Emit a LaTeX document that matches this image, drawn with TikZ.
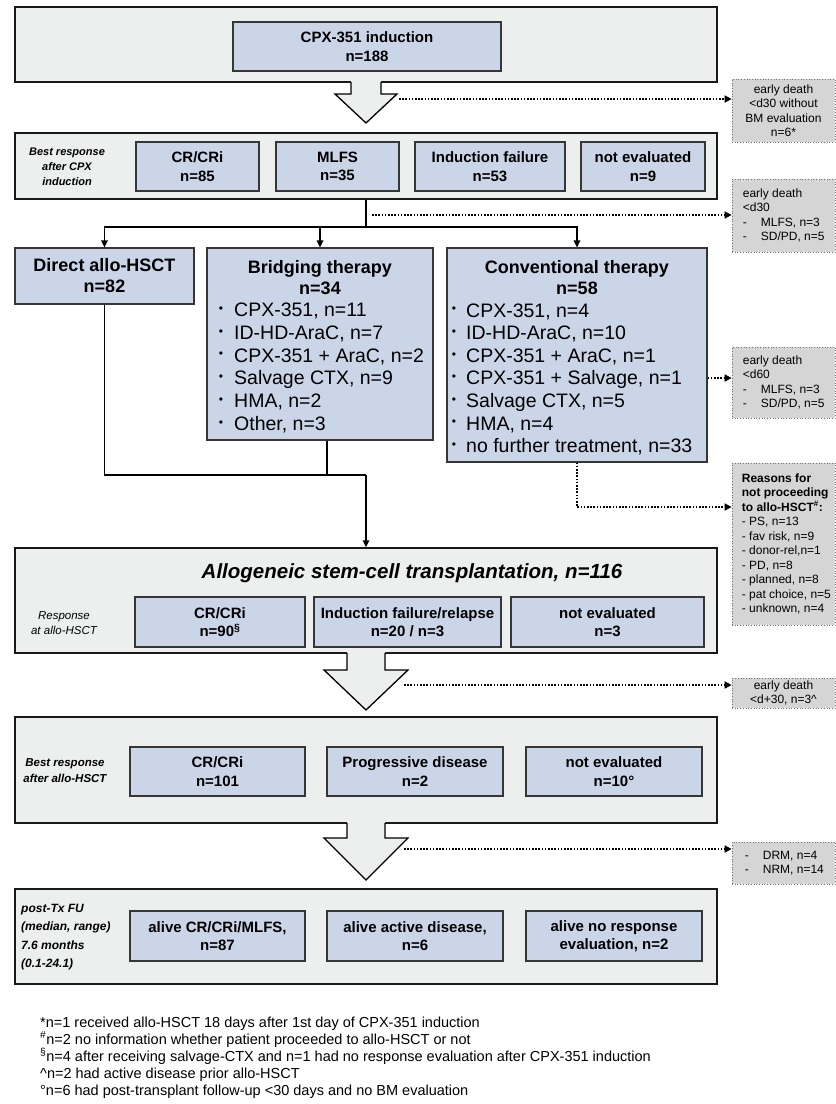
\documentclass[tikz,border=0pt]{standalone}
\usepackage{fontspec}
\setmainfont{Liberation Sans}
\usepackage{tikz}
\usetikzlibrary{arrows.meta, positioning}
\usepackage{xcolor}
\definecolor{panelgray}{HTML}{EDEEEE}
\definecolor{boxblue}{HTML}{CAD6E8}
\definecolor{sidegray}{HTML}{D5D5D5}
\definecolor{edgegray}{HTML}{363636}

\newcommand{\blockarrow}[6]{%
  \fill[panelgray] (#1-#3,#2-2) -- (#1-#3,#5) -- (#1-#4,#5) -- (#1,#6) -- (#1+#4,#5) -- (#1+#3,#5) -- (#1+#3,#2-2) -- cycle;
  \draw[blockline] (#1-#3,#2) -- (#1-#3,#5) -- (#1-#4,#5) -- (#1,#6) -- (#1+#4,#5) -- (#1+#3,#5) -- (#1+#3,#2);}

\begin{document}
\begin{tikzpicture}[x=1pt,y=-1pt,
  panel/.style={draw=black!90, line width=1.5pt, fill=panelgray, inner sep=0pt},
  resbox/.style={draw=edgegray, line width=1.2pt, fill=boxblue, align=center, inner sep=0pt, font=\fontsize{15}{18.5}\selectfont\bfseries},
  groupbox/.style={resbox, font=\fontsize{18}{21}\selectfont\bfseries},
  grouptitle/.style={align=center, inner sep=0pt, font=\fontsize{18}{21}\selectfont\bfseries},
  itemtext/.style={inner sep=0pt, font=\fontsize{19.5}{22}\selectfont},
  itemdot/.style={inner sep=0pt, font=\fontsize{12}{14}\selectfont},
  rowlabel/.style={align=center, inner sep=0pt, font=\fontsize{11}{15}\selectfont\bfseries\itshape},
  sidebox/.style={draw=black!55, line width=0.7pt, dotted, fill=sidegray, inner sep=0pt, align=center, font=\fontsize{12}{14.5}\selectfont},
  sidetext/.style={inner sep=0pt, align=left, anchor=west, font=\fontsize{12}{14.5}\selectfont},
  conn/.style={line width=1.6pt, -{Triangle[length=7pt,width=6.5pt]}},
  dotconn/.style={line width=1.6pt, dash pattern=on 1.6pt off 1.6pt, -{Triangle[length=7pt,width=7pt]}},
  blockline/.style={draw=black, line width=1.3pt, line join=miter},
  footnote/.style={anchor=base west, inner sep=0pt, font=\fontsize{14.5}{17}\selectfont}]
\path[fill=white] (0,0) rectangle (836,1104);
\useasboundingbox (0,0) rectangle (836,1104);

% induction
\node[panel, minimum width=702pt, minimum height=75pt] (p1) at (366,44.5) {};
\node[resbox, minimum width=268pt, minimum height=49pt] (cpx) at (367,46.5) {CPX-351 induction\\n=188};
\blockarrow{366}{82}{15}{31}{94}{123}

% best response after CPX
\node[panel, minimum width=702pt, minimum height=66pt] (p2) at (366,166) {};
\node[rowlabel] (lbl2) at (67,167) {Best response\\after CPX\\induction};
\node[resbox, minimum width=123pt, minimum height=49pt] (cr1) at (197.5,166.5) {CR/CRi\\n=85};
\node[resbox, minimum width=123pt, minimum height=49pt] (mlfs1) at (337.5,166.5) {MLFS\\n=35};
\node[resbox, minimum width=150pt, minimum height=49pt] (if1) at (490,166.5) {Induction failure\\n=53};
\node[resbox, minimum width=124pt, minimum height=49pt] (ne1) at (643,166.5) {not evaluated\\n=9};

% three routes
\node[groupbox, minimum width=179pt, minimum height=56pt] (direct) at (104.5,276) {Direct allo-HSCT\\n=82};
\node[groupbox, minimum width=226pt, minimum height=192pt] (bridge) at (320,344) {};
\node[grouptitle, below=12.5pt of bridge.north] (bridgetitle) {Bridging therapy\\n=34};
\foreach \t [count=\i] in {{CPX-351, n=11},{ID-HD-AraC, n=7},{CPX-351 + AraC, n=2},{Salvage CTX, n=9},{HMA, n=2},{Other, n=3}}{
  \node[itemdot] (bridgedot\i) at (221,{309.5+22.8*(\i-1)}) {•};
  \node[itemtext, anchor=base west] (bridgeitem\i) at (234,{316.5+22.8*(\i-1)}) {\t};
}
\node[groupbox, minimum width=260pt, minimum height=214pt] (conv) at (577,355) {};
\node[grouptitle, below=12.5pt of conv.north] (convtitle) {Conventional therapy\\n=58};
\foreach \t [count=\i] in {{CPX-351, n=4},{ID-HD-AraC, n=10},{CPX-351 + AraC, n=1},{CPX-351 + Salvage, n=1},{Salvage CTX, n=5},{HMA, n=4},{no further treatment, n=33}}{
  \node[itemdot] (convdot\i) at (454,{310+22.6*(\i-1)}) {•};
  \node[itemtext, anchor=base west] (convitem\i) at (466,{317+22.6*(\i-1)}) {\t};
}

\coordinate (branch) at (366,227);
\draw[line width=1.6pt] (p2.south) -- (branch);
\draw[conn] (branch) -| (direct.north);
\draw[conn] (branch) -| (bridge.north);
\draw[conn] (branch) -| (conv.north);

% transplantation
\node[panel, minimum width=702pt, minimum height=105pt] (p4) at (366,600.5) {};
\node[inner sep=0pt, font=\fontsize{20.5}{24}\selectfont\bfseries\itshape] (p4title) at (412,573) {Allogeneic stem-cell transplantation, n=116};
\node[rowlabel, font=\fontsize{11.5}{15}\selectfont\itshape] (lbl4) at (64,623) {Response\\at allo-HSCT};
\node[resbox, minimum width=170pt, minimum height=50pt] (cr4) at (220,622) {CR/CRi\\n=90\textsuperscript{§}};
\node[resbox, minimum width=187pt, minimum height=50pt] (if4) at (407.5,622) {Induction failure/relapse\\n=20 / n=3};
\node[resbox, minimum width=193pt, minimum height=50pt] (ne4) at (607.5,622) {not evaluated\\n=3};

\coordinate (join) at (366,475);
\coordinate (bjoin) at (327,475);
\draw[line width=1.6pt] (direct.south) |- (join);
\draw[line width=1.6pt] (bridge.south -| bjoin) -- (bjoin);
\draw[conn] (join) -- (p4.north);
\blockarrow{366}{653}{19}{42}{670}{710}

% best response after allo-HSCT
\node[panel, minimum width=702pt, minimum height=106pt] (p5) at (366,770) {};
\node[rowlabel, font=\fontsize{11.5}{16}\selectfont\bfseries\itshape] (lbl5) at (65,771) {Best response\\after allo-HSCT};
\node[resbox, minimum width=175pt, minimum height=49pt] (cr5) at (217.5,771.5) {CR/CRi\\n=101};
\node[resbox, minimum width=176pt, minimum height=49pt] (pd5) at (415,771.5) {Progressive disease\\n=2};
\node[resbox, minimum width=176pt, minimum height=49pt] (ne5) at (614,771.5) {not evaluated\\n=10°};
\blockarrow{366}{823}{19}{42}{838}{880}

% follow-up
\node[panel, minimum width=702pt, minimum height=95pt] (p6) at (366,936.5) {};
\node[rowlabel, anchor=west, align=left, font=\fontsize{12}{18.5}\selectfont\bfseries\itshape] (lbl6) at (21,937) {post-Tx FU\\(median, range)\\7.6 months\\(0.1-24.1)};
\node[resbox, minimum width=175pt, minimum height=50pt] (alive1) at (217.5,936) {alive CR/CRi/MLFS,\\n=87};
\node[resbox, minimum width=176pt, minimum height=50pt] (alive2) at (415,936) {alive active disease,\\n=6};
\node[resbox, minimum width=176pt, minimum height=50pt] (alive3) at (614,936) {alive no response\\evaluation, n=2};

% side boxes
\node[sidebox, minimum width=103pt, minimum height=63pt] (gb1) at (783.5,110.5) {early death\\<d30 without\\BM evaluation\\n=6*};
\node[sidebox, minimum width=103pt, minimum height=73pt] (gb2) at (783.5,215.5) {};
\node[sidetext] (gb2text) at ([xshift=11pt]gb2.west) {early death\\<d30\\\makebox[18pt][l]{-}MLFS, n=3\\\makebox[18pt][l]{-}SD/PD, n=5};
\node[sidebox, minimum width=103pt, minimum height=71pt] (gb3) at (783.5,382.5) {};
\node[sidetext] (gb3text) at ([xshift=11pt]gb3.west) {early death\\<d60\\\makebox[18pt][l]{-}MLFS, n=3\\\makebox[18pt][l]{-}SD/PD, n=5};
\node[sidebox, minimum width=103pt, minimum height=162pt] (reasons) at (783.5,544) {};
\node[sidetext] (reasonstext) at ([xshift=10pt]reasons.west) {\textbf{Reasons for}\\\textbf{not proceeding}\\\textbf{to allo-HSCT\textsuperscript{\#}:}\\- PS, n=13\\- fav risk, n=9\\- donor-rel,n=1\\- PD, n=8\\- planned, n=8\\- pat choice, n=5\\- unknown, n=4};
\node[sidebox, minimum width=103pt, minimum height=30pt, font=\fontsize{12}{13.5}\selectfont] (gb4) at (783.5,693) {early death\\<d+30, n=3\textasciicircum};
\node[sidebox, minimum width=103pt, minimum height=42pt] (gb5) at (783.5,863) {};
\node[sidetext] (gb5text) at ([xshift=13pt]gb5.west) {\makebox[18pt][l]{-}DRM, n=4\\\makebox[18pt][l]{-}NRM, n=14};

\coordinate (d1) at (399,99);
\draw[dotconn] (d1) -- (d1 -| gb1.west);
\coordinate (d2) at (372,215);
\draw[dotconn] (d2) -- (d2 -| gb2.west);
\coordinate (d3) at (0,378);
\draw[dotconn] (conv.east |- d3) -- (gb3.west |- d3);
\coordinate (d4) at (0,507);
\draw[dotconn] (conv.south) -- (conv.south |- d4) -- (reasons.west |- d4);
\coordinate (d5) at (404,685);
\draw[dotconn] (d5) -- (d5 -| gb4.west);
\coordinate (d6) at (404,849);
\draw[dotconn] (d6) -- (d6 -| gb5.west);

% footnotes
\node[footnote] (fn1) at (40,1027) {*n=1 received allo-HSCT 18 days after 1st day of CPX-351 induction};
\node[footnote] (fn2) at (40,1044) {\textsuperscript{\#}n=2 no information whether patient proceeded to allo-HSCT or not};
\node[footnote] (fn3) at (40,1061) {\textsuperscript{§}n=4 after receiving salvage-CTX and n=1 had no response evaluation after CPX-351 induction};
\node[footnote] (fn4) at (40,1078) {\textasciicircum n=2 had active disease prior allo-HSCT};
\node[footnote] (fn5) at (40,1095) {°n=6 had post-transplant follow-up <30 days and no BM evaluation};
\end{tikzpicture}
\end{document}
